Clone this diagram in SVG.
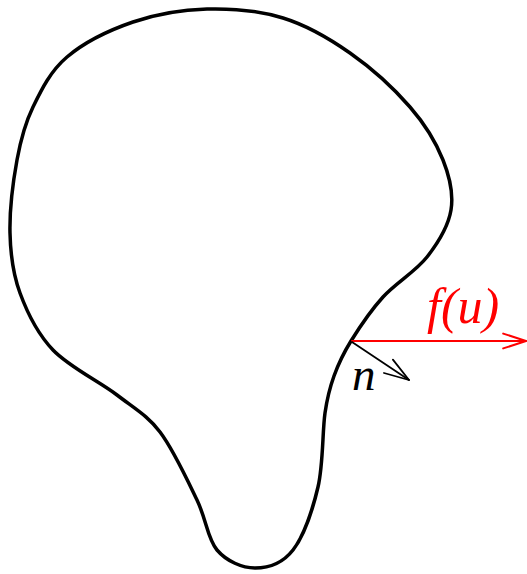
<svg xmlns="http://www.w3.org/2000/svg" width="527" height="574" viewBox="0 0 527 574">
<style>
.outline{fill:none;stroke:#000;stroke-width:3.5;stroke-linejoin:round;stroke-linecap:round}
.lbl{font-family:"Liberation Serif","Times New Roman",serif;font-style:italic}
.arr{fill:none;stroke-linecap:round;stroke-linejoin:round}
</style>
<rect width="527" height="574" fill="#fff"/>
<g id="region">
<path class="outline" d="M351,341 C359.17,327.83 370.33,311 383,297 C395.67,283 415.67,271.5 427,257 C438.33,242.5 448.33,226.17 451,210 C453.67,193.83 449.83,177.17 443,160 C436.17,142.83 425.5,124.83 410,107 C394.5,89.17 371.17,67.83 350,53 C328.83,38.17 306.83,25.33 283,18 C259.17,10.67 232,8.33 207,9 C182,9.67 156.33,14 133,22 C109.67,30 83.67,42.83 67,57 C50.33,71.17 41.33,89.83 33,107 C24.67,124.17 20.83,139 17,160 C13.17,181 9.5,210.83 10,233 C10.5,255.17 12.83,273.5 20,293 C27.17,312.5 36.83,333 53,350 C69.17,367 99.17,381.33 117,395 C134.83,408.67 148.67,416.5 160,432 C173.33,449.5 187.5,480.33 197,500 C206.5,519.67 207.33,538.67 217,550 C226.67,561.33 242.33,568 255,568 C267.67,568 282.5,563.5 293,550 C303.5,536.5 312.67,509.83 318,487 C323.33,464.17 322.33,431.5 325,413 C327.67,394.5 329.67,388 334,376 C338.33,364 342.83,354.17 351,341 Z"/>
</g>
<g id="connectors">
<g id="flux">
<line class="arr" x1="352" y1="341" x2="526" y2="341" stroke="#ff0000" stroke-width="2"/>
<polyline class="arr" points="503.2,333.6 526,341 503.2,348.4" stroke="#ff0000" stroke-width="2"/>
</g>
<g id="normal">
<line class="arr" x1="352" y1="342" x2="409" y2="380" stroke="#000" stroke-width="1.8"/>
<polyline class="arr" points="384,373 409,380 392.9,359.6" stroke="#000" stroke-width="1.8"/>
</g>
</g>
<g id="labels">
<text class="lbl" x="427" y="323" font-size="50" fill="#ff0000">f(u)</text>
<text class="lbl" x="352" y="390" font-size="47" fill="#000">n</text>
</g>
</svg>
